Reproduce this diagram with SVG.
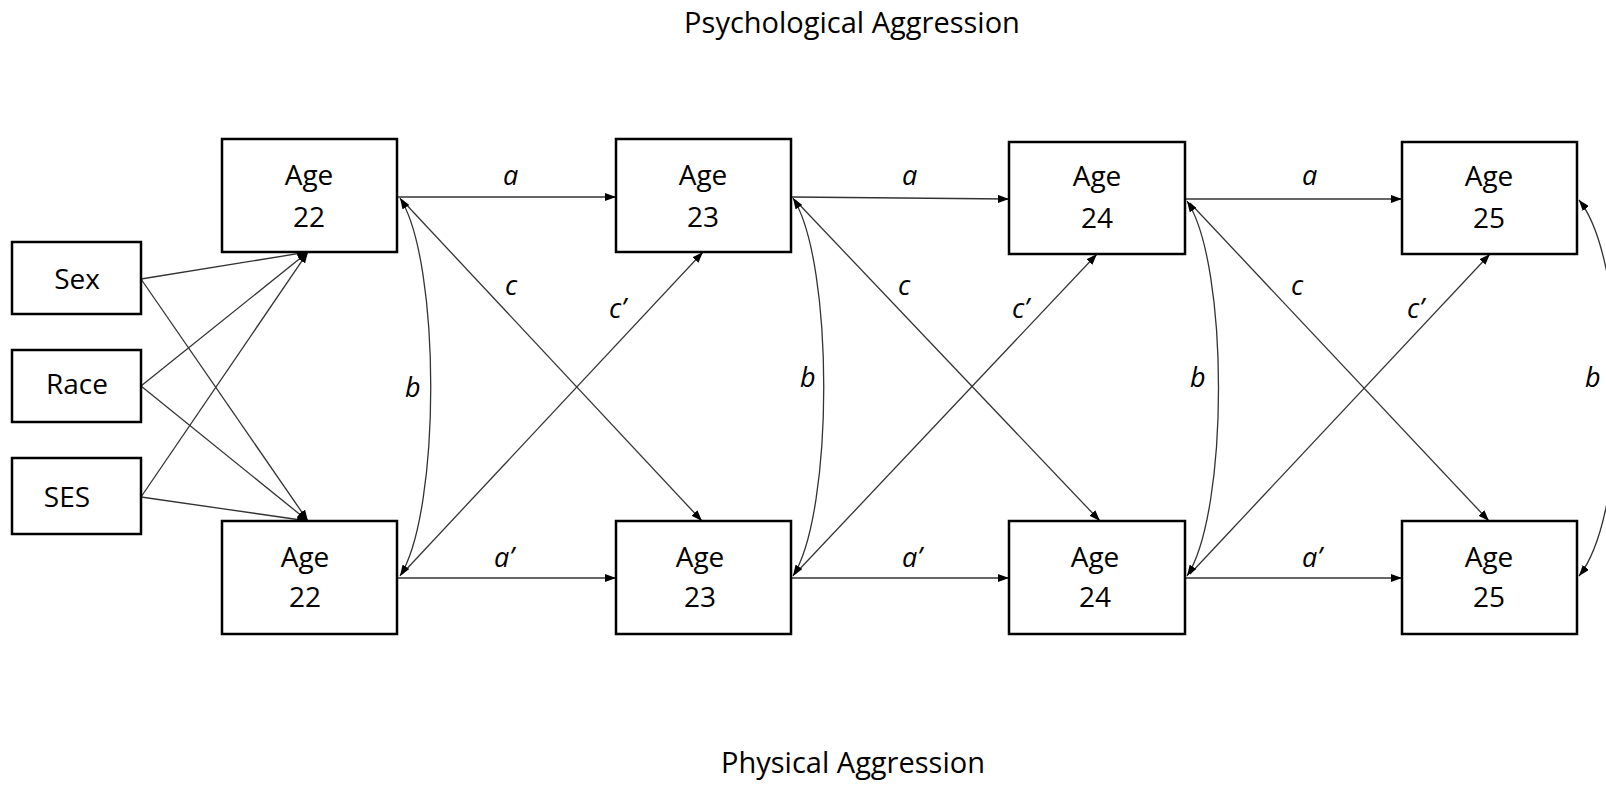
<svg xmlns="http://www.w3.org/2000/svg" width="1606" height="787" viewBox="0 0 1606 787">
<style>
.box{fill:#fff;stroke:#000;stroke-width:2.5}
.t{font-family:"Open Sans","Noto Sans","Liberation Sans",sans-serif;font-size:28px;fill:#000;text-anchor:middle}
.ttl{font-size:29px}
.lb{font-family:"Open Sans","Noto Sans","Liberation Sans",sans-serif;font-size:27px;font-style:italic;fill:#000}
.ln{fill:none;stroke:#333;stroke-width:1.3}
.ar{marker-end:url(#ah)}
.ar2{marker-start:url(#ah);marker-end:url(#ah)}
</style>
<defs>
<marker id="ah" viewBox="0 0 11 8" refX="11" refY="4" markerWidth="11" markerHeight="8" markerUnits="userSpaceOnUse" orient="auto-start-reverse"><path d="M0,0 L11,4 L0,8 z" fill="#000"/></marker>
</defs>
<rect width="1606" height="787" fill="#fff"/>
<text class="t ttl" x="852" y="33">Psychological Aggression</text>
<text class="t ttl" x="853" y="773">Physical Aggression</text>
<g id="connectors">
<line class="ln ar" x1="141" y1="279" x2="308" y2="252"/>
<line class="ln ar" x1="141" y1="279" x2="308" y2="521"/>
<line class="ln ar" x1="141" y1="386" x2="308" y2="252"/>
<line class="ln ar" x1="141" y1="386" x2="308" y2="521"/>
<line class="ln ar" x1="141" y1="497" x2="308" y2="252"/>
<line class="ln ar" x1="141" y1="497" x2="308" y2="521"/>
<line class="ln ar" x1="398" y1="197" x2="616" y2="197"/>
<line class="ln ar" x1="792" y1="197" x2="1009" y2="199"/>
<line class="ln ar" x1="1186" y1="199" x2="1402" y2="199"/>
<line class="ln ar" x1="398" y1="578" x2="616" y2="578"/>
<line class="ln ar" x1="792" y1="578" x2="1009" y2="578"/>
<line class="ln ar" x1="1186" y1="578" x2="1402" y2="578"/>
<line class="ln ar" x1="402" y1="200" x2="702" y2="521"/>
<line class="ln ar" x1="795" y1="200" x2="1100" y2="521"/>
<line class="ln ar" x1="1190" y1="203" x2="1489" y2="521"/>
<line class="ln ar" x1="402" y1="574" x2="703" y2="252"/>
<line class="ln ar" x1="795" y1="574" x2="1097" y2="254"/>
<line class="ln ar" x1="1190" y1="574" x2="1490" y2="254"/>
<path class="ln ar2" d="M400,198 C441,262 441,512 400,576"/>
<path class="ln ar2" d="M793,198 C834,262 834,512 793,576"/>
<path class="ln ar2" d="M1187,201 C1229,264 1229,512 1187,576"/>
<path class="ln ar2" d="M1579,200 C1630,264 1630,512 1579,576"/>
</g>
<g id="labels">
<text class="lb" x="503" y="185">a</text>
<text class="lb" x="902" y="185">a</text>
<text class="lb" x="1302" y="185">a</text>
<text class="lb" x="494" y="567">a’</text>
<text class="lb" x="902" y="567">a’</text>
<text class="lb" x="1302" y="567">a’</text>
<text class="lb" x="505" y="295">c</text>
<text class="lb" x="898" y="295">c</text>
<text class="lb" x="1291" y="295">c</text>
<text class="lb" x="609" y="318">c’</text>
<text class="lb" x="1012" y="318">c’</text>
<text class="lb" x="1407" y="318">c’</text>
<text class="lb" x="405" y="397">b</text>
<text class="lb" x="800" y="387">b</text>
<text class="lb" x="1190" y="387">b</text>
<text class="lb" x="1585" y="387">b</text>
</g>
<g id="sex"><rect class="box" x="12" y="242" width="129" height="72"/><text class="t" x="77" y="289">Sex</text></g>
<g id="race"><rect class="box" x="12" y="350" width="129" height="72"/><text class="t" x="77" y="394">Race</text></g>
<g id="ses"><rect class="box" x="12" y="458" width="129" height="76"/><text class="t" x="67" y="507">SES</text></g>
<g id="psy22"><rect class="box" x="222" y="139" width="175" height="113"/><text class="t" x="309" y="185">Age</text><text class="t" x="309" y="227">22</text></g>
<g id="psy23"><rect class="box" x="616" y="139" width="175" height="113"/><text class="t" x="703" y="185">Age</text><text class="t" x="703" y="227">23</text></g>
<g id="psy24"><rect class="box" x="1009" y="142" width="176" height="112"/><text class="t" x="1097" y="186">Age</text><text class="t" x="1097" y="228">24</text></g>
<g id="psy25"><rect class="box" x="1402" y="142" width="175" height="112"/><text class="t" x="1489" y="186">Age</text><text class="t" x="1489" y="228">25</text></g>
<g id="phy22"><rect class="box" x="222" y="521" width="175" height="113"/><text class="t" x="305" y="567">Age</text><text class="t" x="305" y="607">22</text></g>
<g id="phy23"><rect class="box" x="616" y="521" width="175" height="113"/><text class="t" x="700" y="567">Age</text><text class="t" x="700" y="607">23</text></g>
<g id="phy24"><rect class="box" x="1009" y="521" width="176" height="113"/><text class="t" x="1095" y="567">Age</text><text class="t" x="1095" y="607">24</text></g>
<g id="phy25"><rect class="box" x="1402" y="521" width="175" height="113"/><text class="t" x="1489" y="567">Age</text><text class="t" x="1489" y="607">25</text></g>
</svg>
